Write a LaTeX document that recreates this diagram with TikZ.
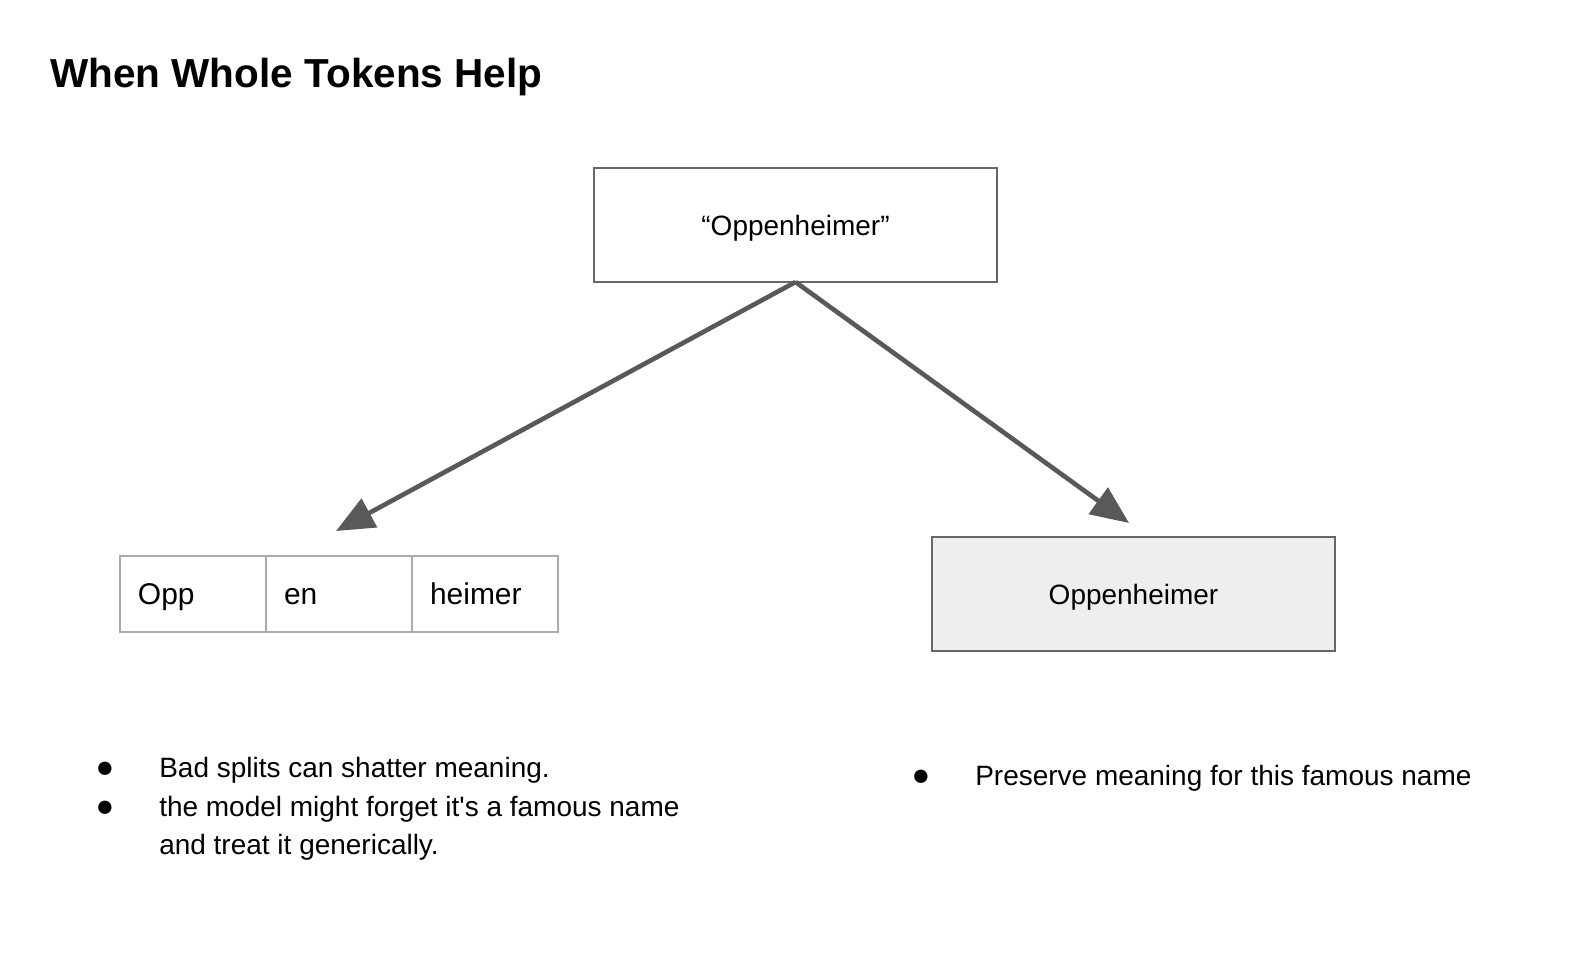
\documentclass[tikz,border=0pt]{standalone}
\usepackage{fontspec}
\setmainfont{Liberation Sans}
\usetikzlibrary{arrows.meta,positioning}
\definecolor{boxline}{HTML}{666666}
\definecolor{tokline}{HTML}{AAAAAA}
\definecolor{arrowgray}{HTML}{595959}
\definecolor{wholefill}{HTML}{EEEEEE}
\tikzset{
  wordbox/.style={draw=boxline, line width=1.3pt, minimum width=10.075cm, minimum height=2.85cm, text height=15.6pt, text depth=0pt, inner sep=0pt, outer sep=0pt, font=\fontsize{19.9}{24}\selectfont},
  tokbox/.style={draw=tokline, line width=1.3pt, minimum width=3.65cm, minimum height=1.9cm, text width=2.75cm, text height=15.6pt, text depth=0pt, align=left, inner xsep=0.45cm, inner ysep=0pt, outer sep=0pt, font=\fontsize{21.3}{25}\selectfont},
  bigarrow/.style={-{Triangle[length=0.95cm,width=0.8cm]}, draw=arrowgray, line width=3.3pt},
  listtext/.style={anchor=base west, inner sep=0pt, font=\fontsize{19.9}{24}\selectfont},
  bulletmark/.style={anchor=base, inner sep=0pt, font=\fontsize{22}{26}\selectfont}
}

\begin{document}
\begin{tikzpicture}[x=0.025cm, y=-0.025cm]
\useasboundingbox (0,0) rectangle (1572,958);

%title
\node[anchor=base west, inner sep=0pt, font=\fontsize{28.8}{34}\selectfont\bfseries] (title) at (50,88) {When Whole Tokens Help};

%boxes
\node[wordbox] (word) at (795.5,225) {“Oppenheimer”};
\node[wordbox, fill=wholefill] (whole) at (1133.5,594) {Oppenheimer};

\node[tokbox] (tokA) at (193,594) {Opp};
\node[tokbox, right=0pt of tokA] (tokB) {en};
\node[tokbox, right=0pt of tokB] (tokC) {heimer};

%arrows
\coordinate (splitend) at (336,531);
\coordinate (wholeend) at (1129,523);
\draw[bigarrow] (word.south) -- (splitend);	 %word--split
\draw[bigarrow] (word.south) -- (wholeend);	 %word--whole

%bullets left
\node[bulletmark] (dotA) at (105,777) {●};
\node[listtext]   (noteA) at (159,777) {Bad splits can shatter meaning.};
\node[bulletmark] (dotB) at (105,816) {●};
\node[listtext]   (noteB) at (159,816) {the model might forget it\textquotesingle s a famous name};
\node[listtext]   (noteC) at (159,854) {and treat it generically.};

%bullets right
\node[bulletmark] (dotC) at (921,785) {●};
\node[listtext]   (noteD) at (975,785) {Preserve meaning for this famous name};
\end{tikzpicture}
\end{document}
